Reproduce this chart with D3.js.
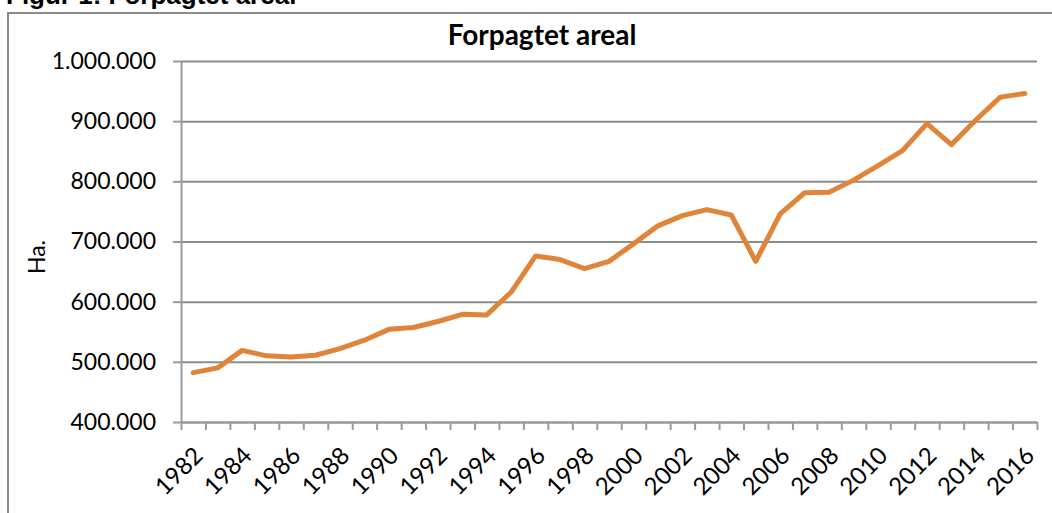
<!DOCTYPE html>
<html>
<head>
<meta charset="utf-8">
<script src="https://cdn.jsdelivr.net/npm/d3@7"></script>
<style>
  body { margin: 0; background: #fff; }
  svg { display: block; }
  .tick text { font-family: Lato, sans-serif; fill: #000; }
</style>
</head>
<body>
<div id="chart"></div>
<script>
// Data
var years = [1982, 1983, 1984, 1985, 1986, 1987, 1988, 1989, 1990, 1991,
  1992, 1993, 1994, 1995, 1996, 1997, 1998, 1999, 2000, 2001,
  2002, 2003, 2004, 2005, 2006, 2007, 2008, 2009, 2010, 2011,
  2012, 2013, 2014, 2015, 2016];
var areal = [482000, 490000, 519000, 510000, 508000, 511000, 522000, 536000, 554000, 557000,
  567000, 579000, 578000, 616000, 676000, 670000, 655000, 667000, 696000, 726000,
  743000, 753000, 744000, 667000, 746000, 781000, 782000, 802000, 826000, 851000,
  896000, 861000, 902000, 940000, 946000];
var yTicks = [400000, 500000, 600000, 700000, 800000, 900000, 1000000];
var labelYears = years.filter(function(d) { return (d - 1982) % 2 === 0; });

var svgWidth = 1052;
var svgHeight = 513;

var margin = { top: 61, right: 15, bottom: 91, left: 181 };
var width = svgWidth - margin.left - margin.right;
var height = svgHeight - margin.top - margin.bottom;

var svg = d3.select("#chart")
  .append("svg")
  .attr("width", svgWidth)
  .attr("height", svgHeight);

// caption above the frame, cut off by the top edge as in the source
svg.append("text")
  .attr("x", 6)
  .attr("y", 4)
  .style("font-family", "Liberation Sans, Arial, sans-serif")
  .style("font-weight", "bold")
  .style("font-size", "26px")
  .text("Figur 1: Forpagtet areal");

// chart frame (only top and left are inside the picture)
svg.append("path")
  .attr("d", "M8,513 V13 H1052")
  .attr("fill", "none")
  .attr("stroke", "#8a8a8a")
  .attr("stroke-width", 2);

var chartGroup = svg.append("g")
  .attr("transform", `translate(${margin.left}, ${margin.top})`);

// scales
var xBand = d3.scaleBand()
  .domain(years)
  .range([0, width]);

var xEdge = d3.scaleLinear()
  .domain([0, years.length])
  .range([0, width]);

var yLinearScale = d3.scaleLinear()
  .domain([400000, 1000000])
  .range([height, 0]);

var locale = d3.formatLocale({ decimal: ",", thousands: ".", grouping: [3], currency: ["", " kr."] });
var fmt = locale.format(",");

// gridlines
chartGroup.append("g")
  .attr("class", "grid")
  .call(d3.axisLeft(yLinearScale).tickValues(yTicks).tickSize(-width).tickFormat(""))
  .call(g => g.select(".domain").remove())
  .selectAll("line")
  .attr("stroke", "#8c8c8c")
  .attr("stroke-width", 2);

// y axis
var yAxis = chartGroup.append("g")
  .call(d3.axisLeft(yLinearScale).tickValues(yTicks).tickSize(8).tickPadding(17).tickSizeOuter(0).tickFormat(fmt));
yAxis.select(".domain").attr("stroke", "#9a9a9a").attr("stroke-width", 2);
yAxis.selectAll(".tick line").attr("stroke", "#9a9a9a").attr("stroke-width", 2);
yAxis.selectAll(".tick text").style("font-size", "23px");

// x axis: tick marks at category edges
var xAxis = chartGroup.append("g")
  .attr("transform", `translate(0, ${height})`)
  .call(d3.axisBottom(xEdge).tickValues(d3.range(years.length + 1)).tickSize(8).tickSizeOuter(0).tickFormat(""));
xAxis.select(".domain").attr("stroke", "#9a9a9a").attr("stroke-width", 2);
xAxis.selectAll(".tick line").attr("stroke", "#9a9a9a").attr("stroke-width", 2);

// x labels at category centers, rotated
var xLabels = chartGroup.append("g")
  .attr("transform", `translate(0, ${height})`)
  .call(d3.axisBottom(xBand).tickValues(labelYears).tickSize(0).tickFormat(d3.format("d")));
xLabels.select(".domain").remove();
xLabels.selectAll(".tick text")
  .style("font-size", "24px")
  .attr("text-anchor", "end")
  .attr("dy", "0")
  .attr("transform", "translate(9, 33) rotate(-45)");

// line
var line = d3.line()
  .x((d, i) => xBand(years[i]) + xBand.bandwidth() / 2)
  .y(d => yLinearScale(d));

chartGroup.append("path")
  .datum(areal)
  .attr("fill", "none")
  .attr("stroke", "#df8439")
  .attr("stroke-width", 5)
  .attr("stroke-linejoin", "round")
  .attr("stroke-linecap", "round")
  .attr("d", line);

// title
svg.append("text")
  .attr("x", 542)
  .attr("y", 45)
  .attr("text-anchor", "middle")
  .style("font-family", "Lato, sans-serif")
  .style("font-weight", "bold")
  .style("font-size", "28px")
  .text("Forpagtet areal");

// y label
svg.append("text")
  .attr("transform", "translate(45, 257) rotate(-90)")
  .attr("text-anchor", "middle")
  .style("font-family", "Lato, sans-serif")
  .style("font-size", "23px")
  .text("Ha.");
</script>
</body>
</html>
